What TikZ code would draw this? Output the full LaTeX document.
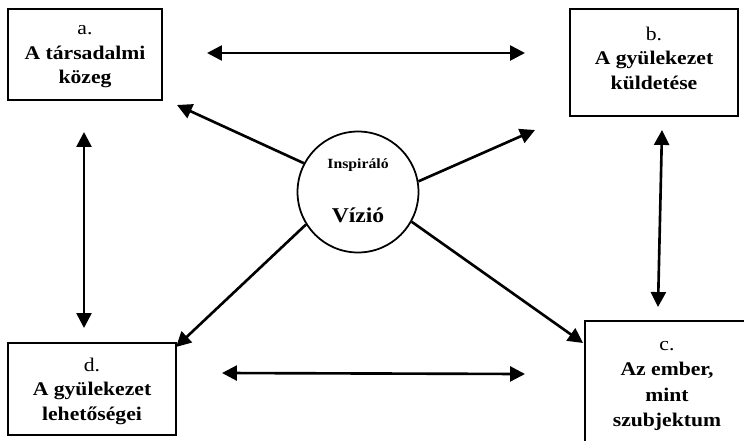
\documentclass[tikz,border=0pt]{standalone}
\usepackage{fontspec}
\setmainfont{Liberation Serif}[FakeStretch=1.12]
\usetikzlibrary{arrows.meta}

\begin{document}
\begin{tikzpicture}[x=0.02cm,y=-0.02cm,
  box/.style={draw,line width=1pt,align=center,inner sep=2pt,text depth=0pt,font=\fontsize{11}{14}\selectfont},
  both/.style={line width=1.5pt,{Triangle[length=8.5pt,width=8.5pt]}-{Triangle[length=8.5pt,width=8.5pt]}},
  ray/.style={line width=1.5pt,-{Triangle[length=8.5pt,width=8.5pt]}}]
\useasboundingbox (0,0) rectangle (744,440);
\clip (0,0) rectangle (744,440);
\node (a) at (85,54.5) [box,minimum width=3.08cm,minimum height=1.82cm] {a.\\\textbf{A társadalmi}\\\textbf{közeg}};
\node (b) at (654,62.5) [box,minimum width=3.36cm,minimum height=2.14cm,text depth=5pt] {b.\\\textbf{A gyülekezet}\\\textbf{küldetése}};
\node (c) at (667,384) [box,minimum width=3.28cm,minimum height=2.52cm,font=\fontsize{11}{14.4}\selectfont] {c.\\\textbf{Az ember,}\\\textbf{mint}\\\textbf{szubjektum}};
\node (d) at (92,389) [box,minimum width=3.36cm,minimum height=1.84cm] {d.\\\textbf{A gyülekezet}\\\textbf{lehetőségei}};
%
\node (v) at (358,192) [circle,draw,line width=1pt,minimum size=2.42cm,inner sep=0pt] {};
\node (insp) at (358,168) [anchor=base,font=\bfseries\fontsize{8}{10}\selectfont] {Inspiráló};
\node (viz) at (358,222) [anchor=base,font=\bfseries\fontsize{12}{14}\selectfont] {Vízió};
%%
\coordinate (ab-l) at (207,53);
\coordinate (ab-r) at (525,53);
\coordinate (ad-t) at (84,132);
\coordinate (ad-b) at (84,328);
\coordinate (bc-t) at (662,130);
\coordinate (bc-b) at (658,307);
\coordinate (dc-l) at (222,373);
\coordinate (dc-r) at (525,374);
%
\draw [both] (ab-l) -- (ab-r);
\draw [both] (ad-t) -- (ad-b);
\draw [both] (bc-t) -- (bc-b);
\draw [both] (dc-l) -- (dc-r);
%%
\coordinate (to-a) at (177,105);
\coordinate (to-b) at (535,130);
\coordinate (to-c) at (583,343);
\coordinate (to-d) at (176,347);
%
\draw [ray] (v.152) -- (to-a);
\draw [ray] (v.10) -- (to-b);
\draw [ray] (v.-29) -- (to-c);
\draw [ray] (v.212) -- (to-d);
\end{tikzpicture}
\end{document}
